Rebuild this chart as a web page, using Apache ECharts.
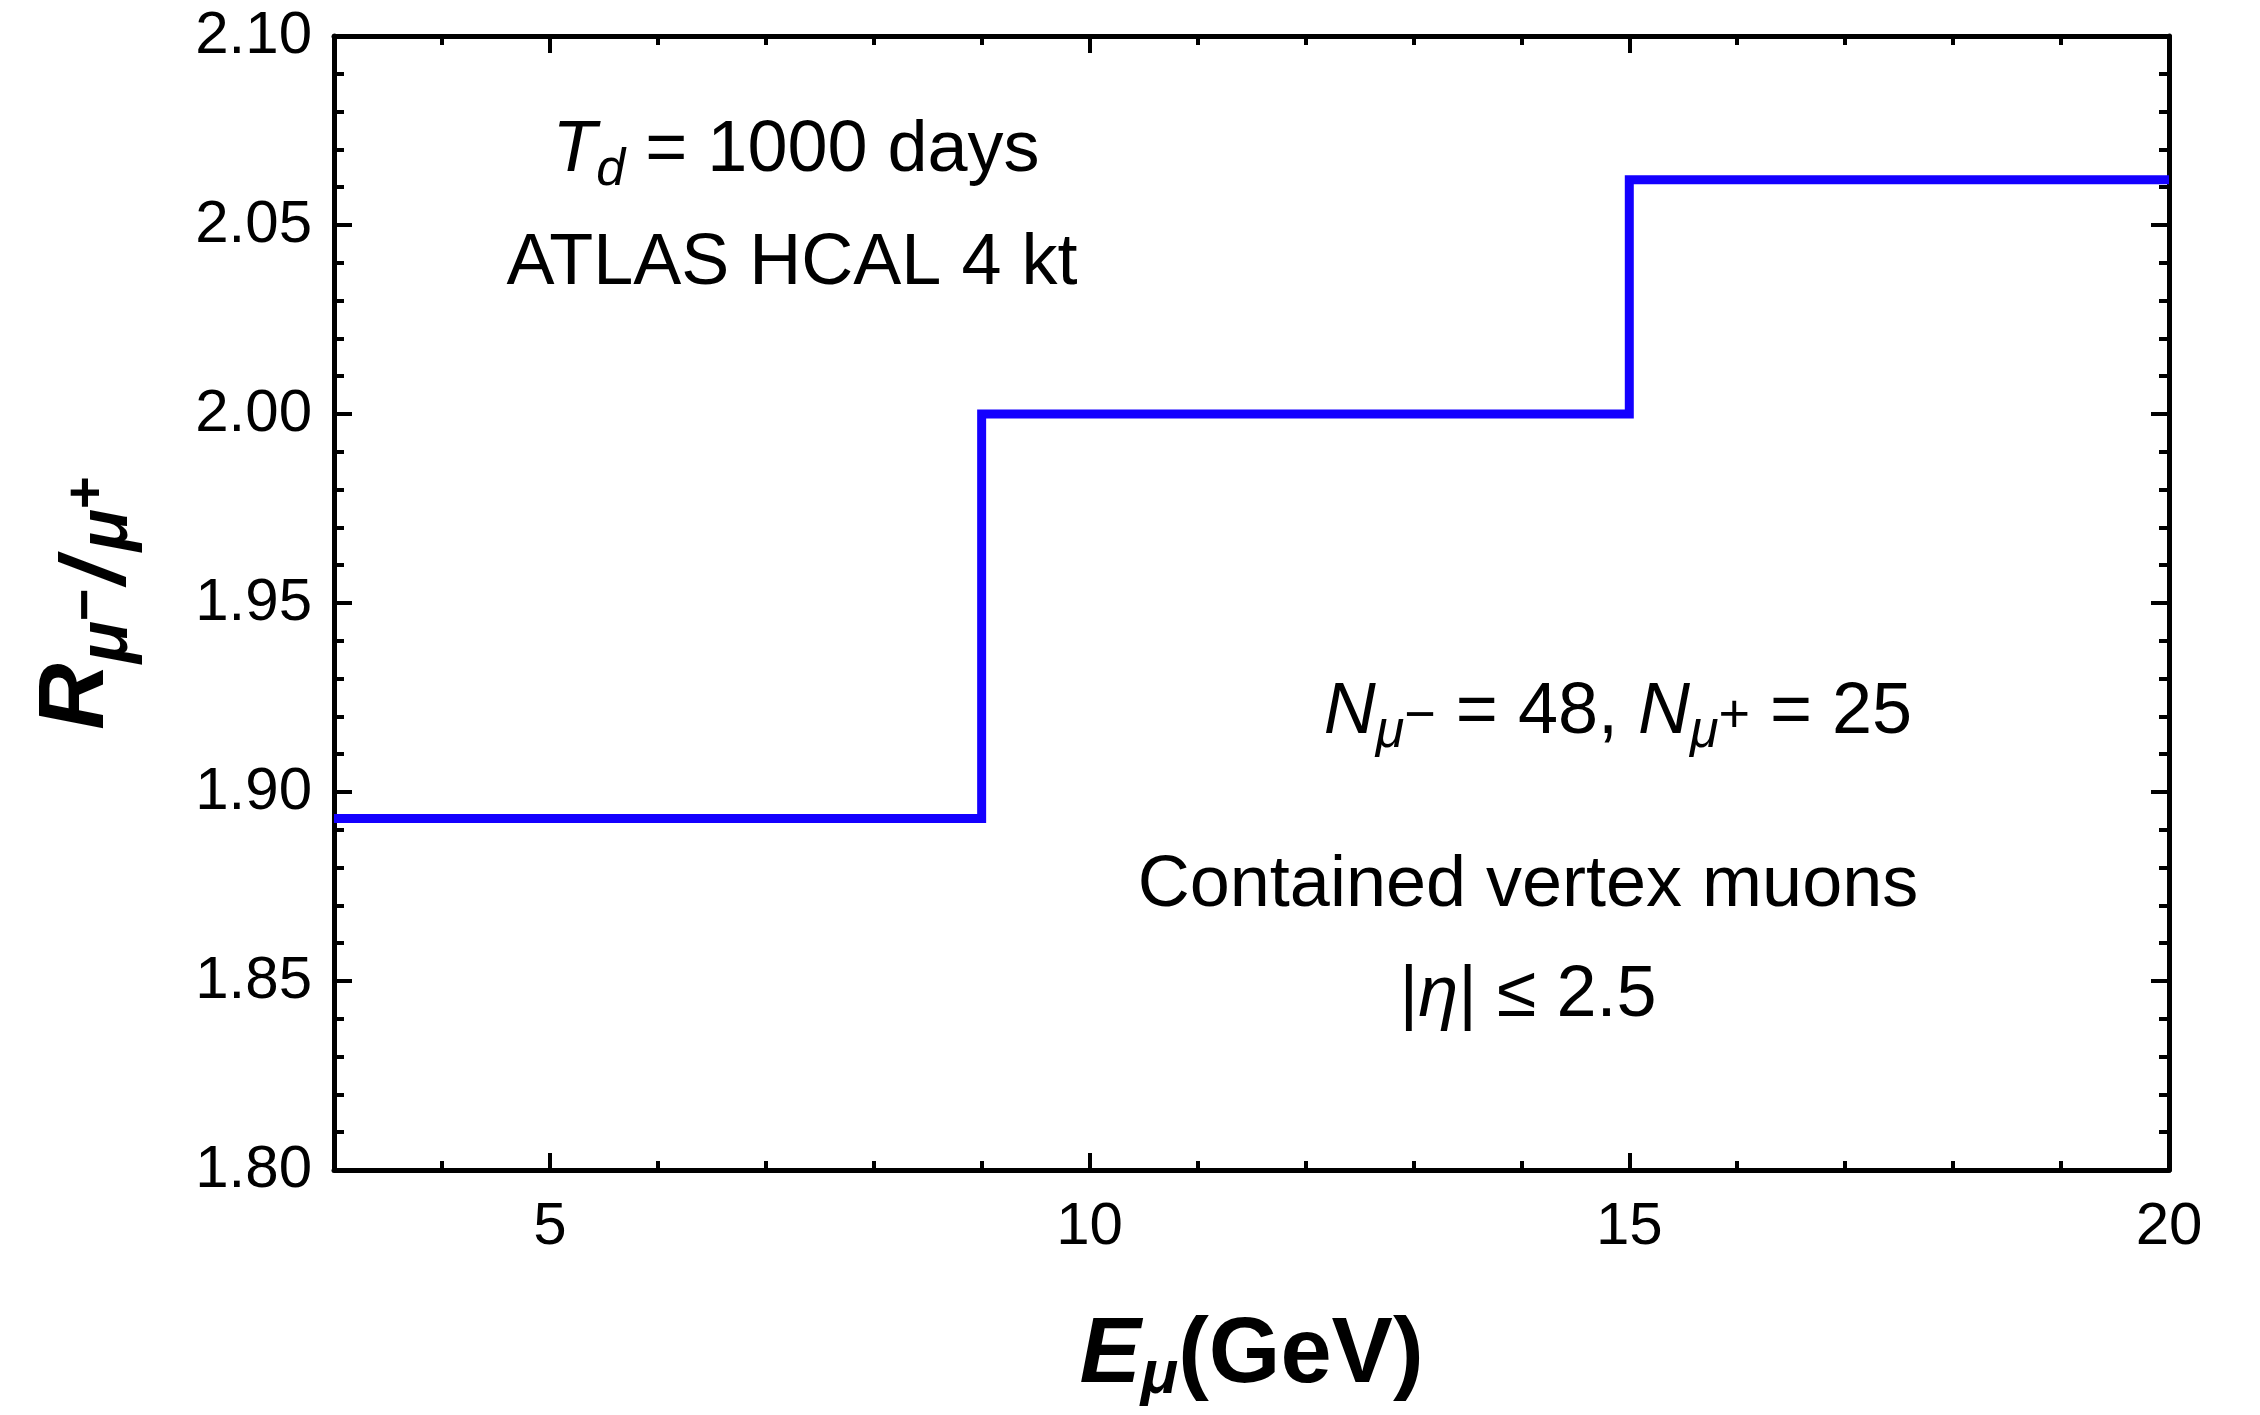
<!DOCTYPE html>
<html><head><meta charset="utf-8">
<script src="https://cdn.jsdelivr.net/npm/echarts@6/dist/echarts.min.js"></script>
<style>html,body{margin:0;padding:0;background:#fff}#chart{width:2260px;height:1415px}</style>
</head><body><div id="chart"></div>
<script>
// ---- data ----
const binEdges = [3, 9, 15, 20];
const ratioValues = [1.893, 2.000, 2.062];
const xMajorTicks = [5, 10, 15, 20];
const xMinorTicks = [4, 6, 7, 8, 9, 11, 12, 13, 14, 16, 17, 18, 19];
const xMin = 3, xMax = 20;
const yMin = 1.80, yMax = 2.10, yStep = 0.05;

// ---- build step points ----
const stepPoints = ratioValues.map((v, i) => [binEdges[i], v]);
stepPoints.push([binEdges[binEdges.length - 1], ratioValues[ratioValues.length - 1]]);

const FONT = '"Liberation Sans", Arial, Helvetica, sans-serif';
const BLACK = '#000';

function xAxisDef(pos, ticks, len, showLine, withLabels) {
  return {
    type: 'value', gridIndex: 0, position: pos, min: xMin, max: xMax,
    axisLine: { show: showLine, lineStyle: { color: BLACK, width: 5 } },
    axisTick: { show: true, inside: true, length: len, customValues: ticks,
      lineStyle: { color: BLACK, width: 4 } },
    axisLabel: withLabels ? { show: true, customValues: ticks, fontSize: 60, margin: 27,
      color: BLACK, fontFamily: FONT } : { show: false },
    splitLine: { show: false }
  };
}

const xMain = xAxisDef('bottom', xMajorTicks, 17, true, true);
xMain.name = '{bi|E}{bs|μ}{b|(GeV)}';
xMain.nameLocation = 'middle';
xMain.nameGap = 137;
xMain.nameTextStyle = {
  color: BLACK, fontFamily: FONT,
  rich: {
    bi: { fontSize: 92, fontWeight: 'bold', fontStyle: 'italic', lineHeight: 100, fontFamily: FONT, color: BLACK },
    bs: { fontSize: 62, fontWeight: 'bold', fontStyle: 'italic', lineHeight: 30, padding: [37, 0, 0, 0], fontFamily: FONT, color: BLACK },
    b: { fontSize: 92, fontWeight: 'bold', lineHeight: 100, fontFamily: FONT, color: BLACK }
  }
};

function yAxisDef(pos, withLabels) {
  return {
    type: 'value', gridIndex: 0, position: pos, min: yMin, max: yMax, interval: yStep,
    axisLine: { show: true, lineStyle: { color: BLACK, width: 5 } },
    axisTick: { show: true, inside: true, length: 18, lineStyle: { color: BLACK, width: 4 } },
    minorTick: { show: true, splitNumber: 5, length: 10, lineStyle: { color: BLACK, width: 4 } },
    axisLabel: withLabels ? { show: true, fontSize: 60, margin: 22, color: BLACK, fontFamily: FONT,
      formatter: v => v.toFixed(2) } : { show: false },
    splitLine: { show: false }, minorSplitLine: { show: false }
  };
}
const yMain = yAxisDef('left', true);
yMain.name = '{R|R}{s|μ}{p|−}{sl|/}{s|μ}{p|+}';
yMain.nameLocation = 'middle';
yMain.nameGap = 206;
yMain.nameTextStyle = {
  color: BLACK, fontFamily: FONT,
  rich: {
    R: { fontSize: 92, fontWeight: 'bold', fontStyle: 'italic', lineHeight: 100, fontFamily: FONT, color: BLACK },
    s: { fontSize: 70, fontWeight: 'bold', fontStyle: 'italic', lineHeight: 30, padding: [60, 0, 0, 0], fontFamily: FONT, color: BLACK },
    sl: { fontSize: 90, fontWeight: 'bold', fontStyle: 'italic', lineHeight: 30, padding: [42, 8, 0, 4], fontFamily: FONT, color: BLACK },
    p: { fontSize: 56, fontWeight: 'bold', lineHeight: 30, padding: [20, 0, 0, 0], fontFamily: FONT, color: BLACK }
  }
};

const annRich = {
  n: { fontSize: 72, fontFamily: FONT, fill: BLACK, lineHeight: 80 },
  i: { fontSize: 72, fontStyle: 'italic', fontFamily: FONT, fill: BLACK, lineHeight: 80 },
  s: { fontSize: 52, fontStyle: 'italic', fontFamily: FONT, fill: BLACK, lineHeight: 30, padding: [40, 0, 0, 0] },
  p: { fontSize: 54, fontFamily: FONT, fill: BLACK, lineHeight: 30, padding: [8, 0, 0, 0] }
};
function ann(x, y, text) {
  return { type: 'text', x: x, y: y, z: 100,
    style: { text: text, rich: annRich, align: 'center', verticalAlign: 'middle',
      fontSize: 72, fontFamily: FONT, fill: BLACK } };
}

const chart = echarts.init(document.getElementById('chart'));
chart.setOption({
  animation: false,
  backgroundColor: '#fff',
  grid: { left: 334, right: 91, top: 36, bottom: 245, containLabel: false },
  xAxis: [
    xMain,
    xAxisDef('bottom', xMinorTicks, 9, false, false),
    xAxisDef('top', xMajorTicks, 17, true, false),
    xAxisDef('top', xMinorTicks, 9, false, false)
  ],
  yAxis: [yMain, yAxisDef('right', false)],
  series: [{
    type: 'line', xAxisIndex: 0, yAxisIndex: 0, step: 'end',
    data: stepPoints, showSymbol: false, symbol: 'none',
    lineStyle: { color: '#1400ff', width: 9, cap: 'butt', join: 'miter' }
  }],
  graphic: [
    ann(796, 151, '{i|T}{s|d}{n| = 1000 days}'),
    ann(792, 264, '{n|ATLAS HCAL 4 kt}'),
    ann(1618, 713, '{i|N}{s|μ}{p|−}{n| = 48, }{i|N}{s|μ}{p|+}{n| = 25}'),
    ann(1528, 886, '{n|Contained vertex muons}'),
    ann(1528, 996, '{n||}{i|η}{n|| ≤ 2.5}')
  ]
});
</script></body></html>
